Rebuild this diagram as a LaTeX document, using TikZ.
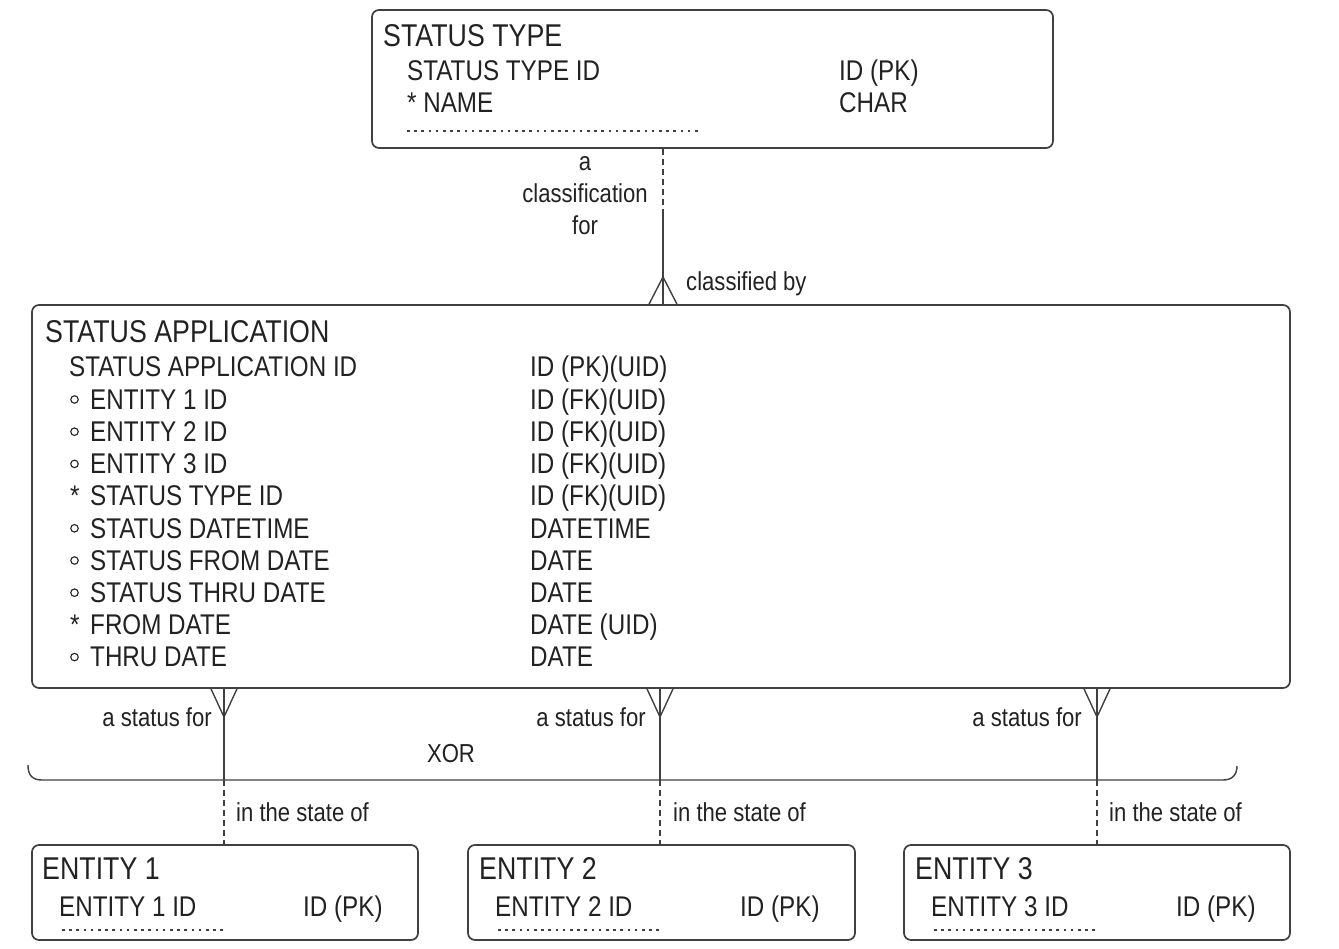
\documentclass[tikz,border=0pt]{standalone}
\usepackage{fontspec}
\setmainfont[FakeStretch=0.85]{Liberation Sans}
\usetikzlibrary{calc}
\definecolor{txt}{HTML}{222222}
\definecolor{lin}{HTML}{404040}
\begin{document}
\begin{tikzpicture}[x=1pt,y=-1pt,
  ent/.style={draw=lin, line width=1.7pt, rounded corners=7pt, inner sep=0, rectangle},
  title/.style={anchor=base west, inner sep=0, text=txt, font=\fontsize{31.5}{32}\selectfont},
  attr/.style={anchor=base west, inner sep=0, text=txt, font=\fontsize{28.5}{32}\selectfont},
  lbl/.style={inner sep=0, text=txt, font=\fontsize{26}{32}\selectfont},
  rel/.style={draw=lin, line width=1.4pt},
  reldash/.style={rel, dash pattern=on 6pt off 4pt},
  dotln/.style={draw=lin, line width=2.6pt, dash pattern=on 2.6pt off 4.6pt},
  opt/.style={circle, draw=txt, line width=1.1pt, minimum size=7.5pt, inner sep=0}]
\useasboundingbox (0,0) rectangle (1339,949);
% boxes
\node[ent, minimum width=681, minimum height=138] (st) at (712.5,79) {};
\node[ent, minimum width=1258, minimum height=383] (sa) at (661,496.5) {};
\node[ent, minimum width=386, minimum height=95] (e1) at (225,892.5) {};
\node[ent, minimum width=387, minimum height=95] (e2) at (661.5,892.5) {};
\node[ent, minimum width=386, minimum height=95] (e3) at (1097,892.5) {};
% STATUS TYPE
\node[title] (stt) at (383,47) {STATUS TYPE};
\node[attr] (st1) at (407,81) {STATUS TYPE ID};
\node[attr] (st2) at (407,113) {* NAME};
\node[attr] (st1b) at (839,81) {ID (PK)};
\node[attr] (st2b) at (839,113) {CHAR};
\draw[dotln] (407,131) -- (700,131);
% STATUS APPLICATION
\node[title] (sat) at (45,343) {STATUS APPLICATION};
\node[attr] (a1) at (69,377) {STATUS APPLICATION ID};
\node[attr] (a2) at (90,409.2) {ENTITY 1 ID};
\node[attr] (a3) at (90,441.4) {ENTITY 2 ID};
\node[attr] (a4) at (90,473.6) {ENTITY 3 ID};
\node[attr] (a5) at (90,505.8) {STATUS TYPE ID};
\node[attr] (a6) at (90,538) {STATUS DATETIME};
\node[attr] (a7) at (90,570.2) {STATUS FROM DATE};
\node[attr] (a8) at (90,602.4) {STATUS THRU DATE};
\node[attr] (a9) at (90,634.6) {FROM DATE};
\node[attr] (a10) at (90,666.8) {THRU DATE};
\node[attr] (b1) at (530,377) {ID (PK)(UID)};
\node[attr] (b2) at (530,409.2) {ID (FK)(UID)};
\node[attr] (b3) at (530,441.4) {ID (FK)(UID)};
\node[attr] (b4) at (530,473.6) {ID (FK)(UID)};
\node[attr] (b5) at (530,505.8) {ID (FK)(UID)};
\node[attr] (b6) at (530,538) {DATETIME};
\node[attr] (b7) at (530,570.2) {DATE};
\node[attr] (b8) at (530,602.4) {DATE};
\node[attr] (b9) at (530,634.6) {DATE (UID)};
\node[attr] (b10) at (530,666.8) {DATE};
\node[opt] (m2) at (74.5,399.5) {};
\node[opt] (m3) at (74.5,431.7) {};
\node[opt] (m4) at (74.5,463.9) {};
\node[attr] (m5) at (70,505.8) {*};
\node[opt] (m6) at (74.5,528.3) {};
\node[opt] (m7) at (74.5,560.5) {};
\node[opt] (m8) at (74.5,592.7) {};
\node[attr] (m9) at (70,634.6) {*};
\node[opt] (m10) at (74.5,657.1) {};
% entities
\node[title] (e1t) at (42,879) {ENTITY 1};
\node[attr] (e1a) at (59,916) {ENTITY 1 ID};
\node[attr] (e1b) at (303,916) {ID (PK)};
\draw[dotln] (62,930) -- (225,930);
\node[title] (e2t) at (479,879) {ENTITY 2};
\node[attr] (e2a) at (495,916) {ENTITY 2 ID};
\node[attr] (e2b) at (740,916) {ID (PK)};
\draw[dotln] (498,930) -- (660,930);
\node[title] (e3t) at (915,879) {ENTITY 3};
\node[attr] (e3a) at (931,916) {ENTITY 3 ID};
\node[attr] (e3b) at (1176,916) {ID (PK)};
\draw[dotln] (934,930) -- (1096,930);
% top relationship
\coordinate (cA) at (663,215);
\coordinate (fA) at (663,277);
\draw[reldash] (st.south -| cA) -- (cA);
\draw[rel] (cA) -- (sa.north -| cA);
\draw[rel] ($(sa.north -| cA)+(-14,0)$) -- (fA) -- ($(sa.north -| cA)+(14,0)$);
\node[lbl, anchor=base] (lA1) at (585,171) {a};
\node[lbl, anchor=base] (lA2) at (585,203) {classification};
\node[lbl, anchor=base] (lA3) at (585,235) {for};
\node[lbl, anchor=base west] (lB) at (686,291) {classified by};
% XOR bracket
\coordinate (k1) at (224,780);
\coordinate (k2) at (660,780);
\coordinate (k3) at (1097,780);
\coordinate (f1) at (224,717);
\coordinate (f2) at (660,717);
\coordinate (f3) at (1097,717);
\draw[rel] (28,765) .. controls (28,775) and (32,780) .. (42,780) -- (1223,780) .. controls (1232,780) and (1237,775) .. (1237,766);
\node[lbl, anchor=base] (xor) at (451,762) {XOR};
\foreach \i in {1,2,3}{
  \draw[rel] (sa.south -| k\i) -- (k\i);
  \draw[reldash] (k\i) -- (e\i.north -| k\i);
  \draw[rel] ($(sa.south -| k\i)+(-13,0)$) -- (f\i) -- ($(sa.south -| k\i)+(13,0)$);
}
\node[lbl, anchor=base east] (s1) at (212,726) {a status for};
\node[lbl, anchor=base east] (s2) at (646,726) {a status for};
\node[lbl, anchor=base east] (s3) at (1082,726) {a status for};
\node[lbl, anchor=base west] (i1) at (236,821) {in the state of};
\node[lbl, anchor=base west] (i2) at (673,821) {in the state of};
\node[lbl, anchor=base west] (i3) at (1109,821) {in the state of};
\end{tikzpicture}
\end{document}
